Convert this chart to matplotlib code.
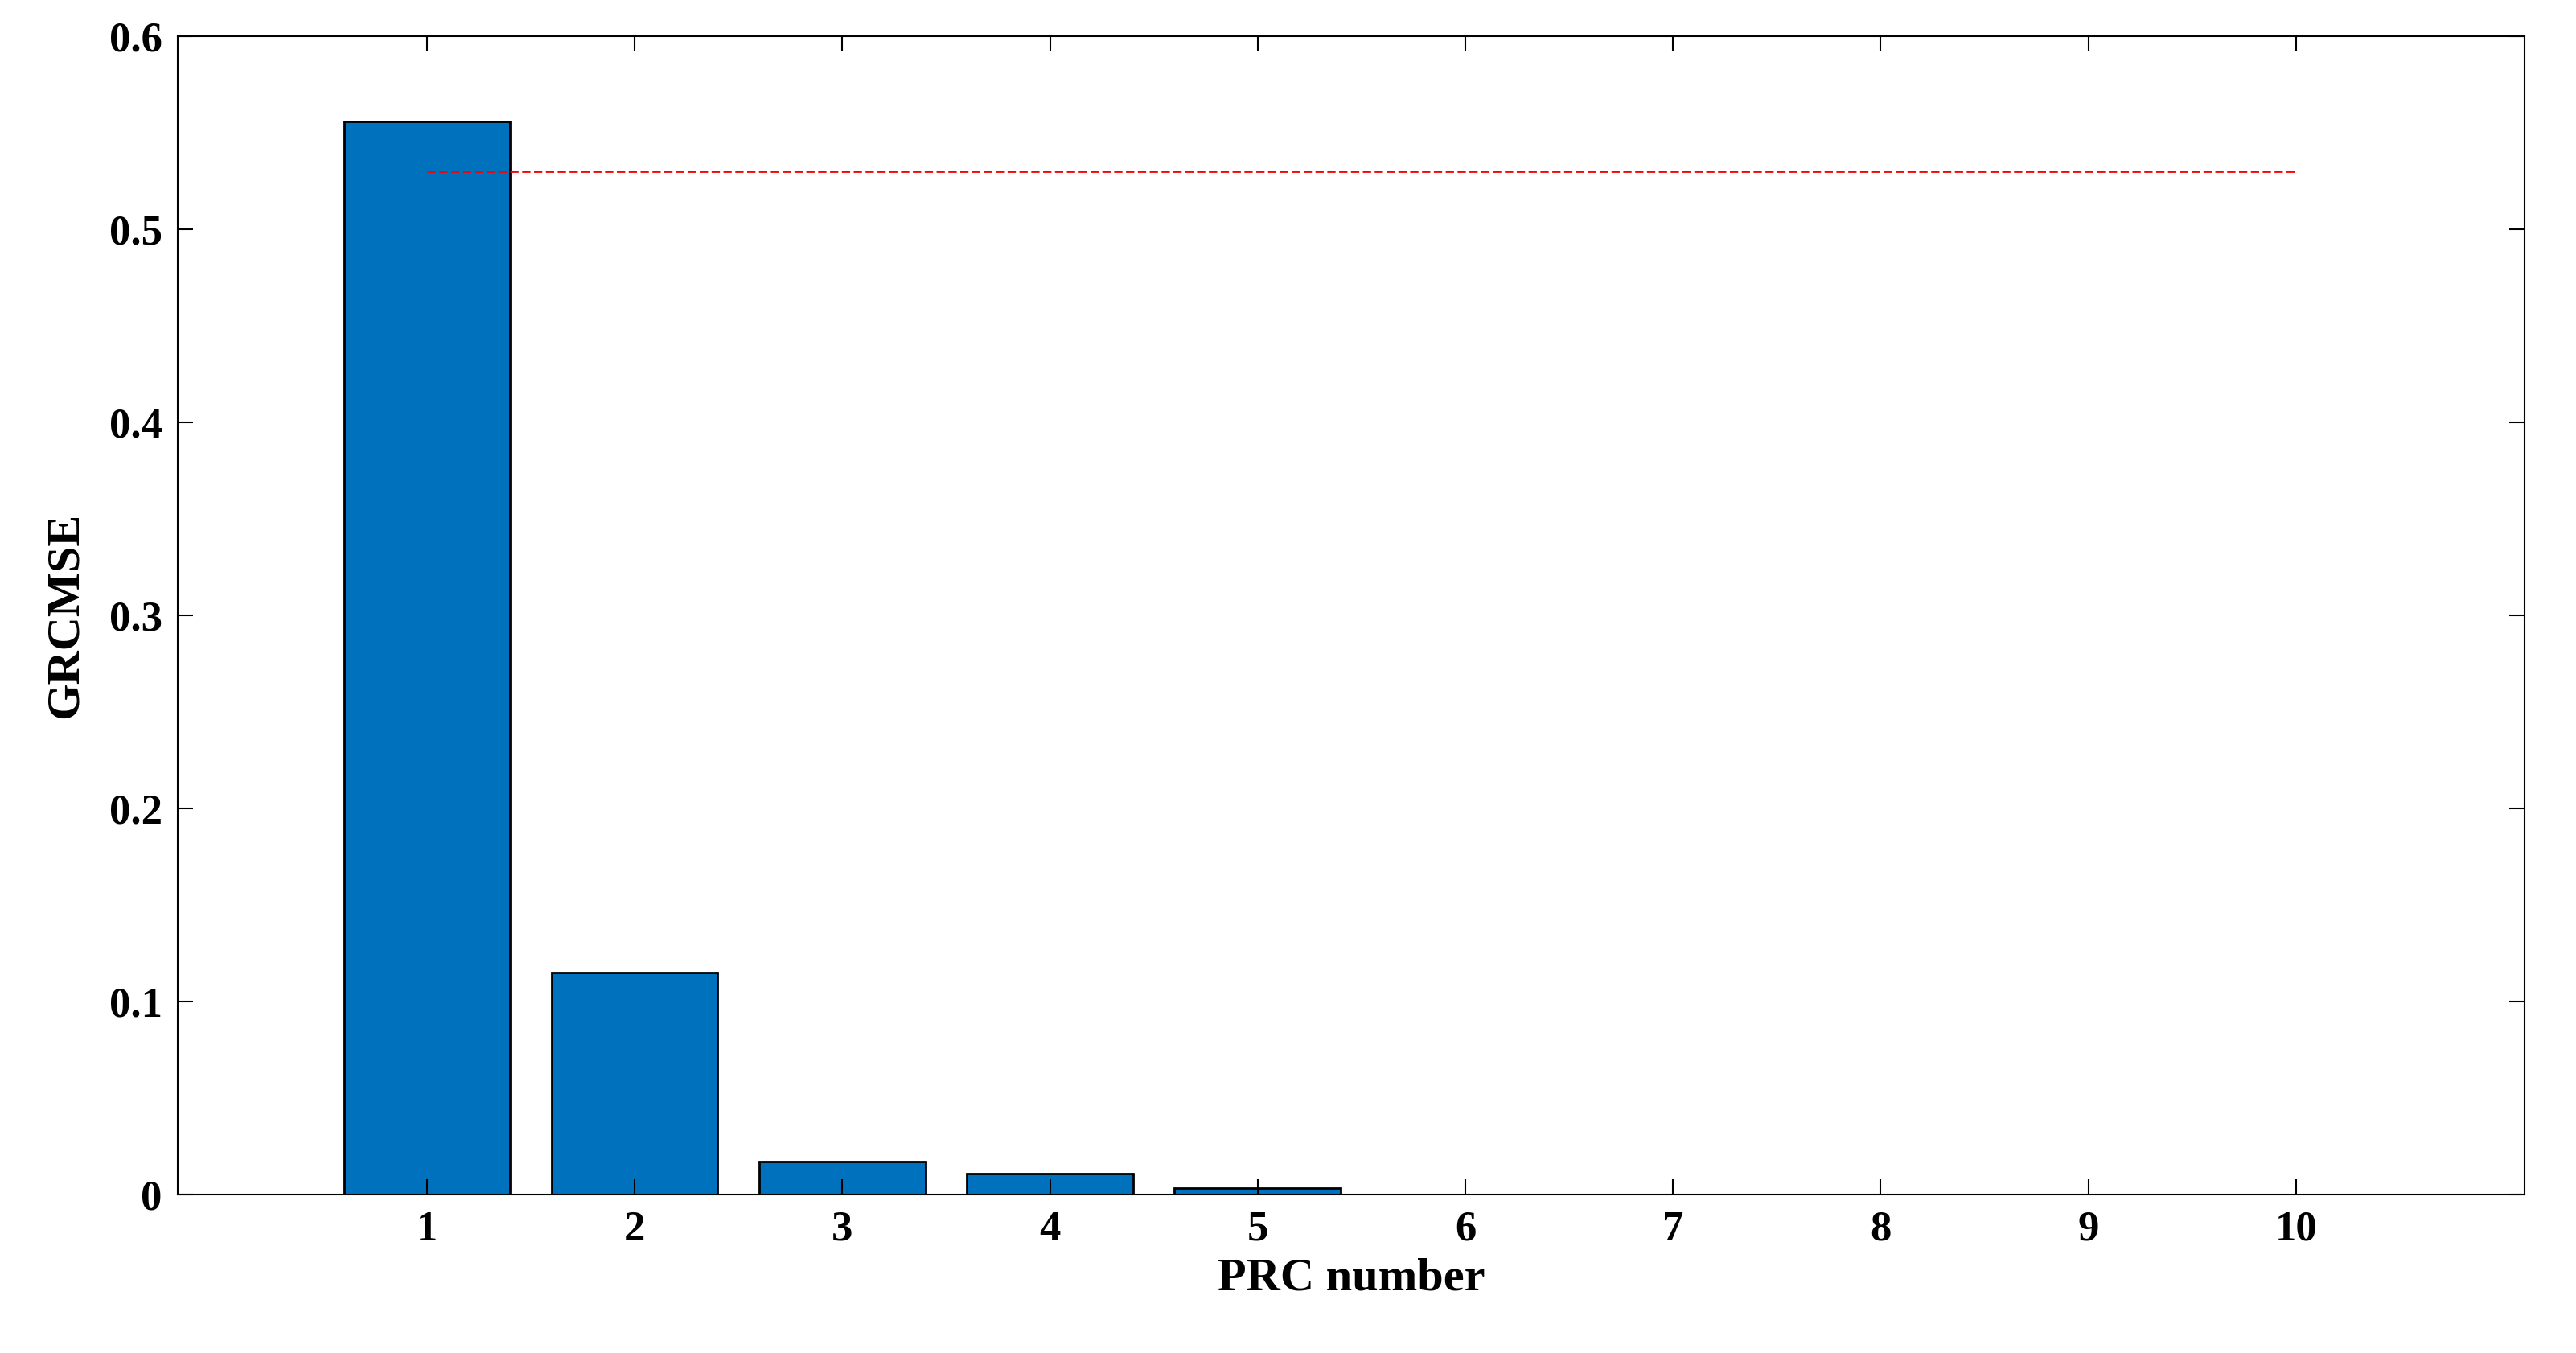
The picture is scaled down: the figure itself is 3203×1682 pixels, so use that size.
import numpy as np
import matplotlib.pyplot as plt

prc = np.arange(1, 11)
grcmse = [0.556, 0.115, 0.017, 0.011, 0.0034, 0, 0, 0, 0, 0]
threshold = 0.53

plt.rcParams['font.family'] = ['Liberation Serif', 'DejaVu Serif']
plt.rcParams['font.weight'] = 'bold'

fig = plt.figure(figsize=(32.03, 16.82), dpi=100)
ax = fig.add_axes([0.069, 0.117, 0.911, 0.856])

ax.bar(prc, grcmse, width=0.8, color='#0072BD', edgecolor='black', linewidth=2)
ax.plot([prc[0], prc[-1]], [threshold, threshold], color='red', linestyle='--', linewidth=2)

ax.set_xlim(-0.2, 11.1)
ax.set_ylim(0, 0.6)
ax.set_xticks(prc)
ax.set_yticks(np.arange(0, 0.61, 0.1))
ax.set_yticklabels(['0', '0.1', '0.2', '0.3', '0.4', '0.5', '0.6'])
ax.tick_params(direction='in', length=14, width=1.5, labelsize=38, top=True, right=True, pad=14)
for s in ax.spines.values():
    s.set_linewidth(1.5)
ax.set_xlabel('PRC number', fontsize=42, fontweight='bold', labelpad=8)
ax.set_ylabel('GRCMSE', fontsize=42, fontweight='bold', labelpad=20)

fig.savefig('out.png', dpi=100)
